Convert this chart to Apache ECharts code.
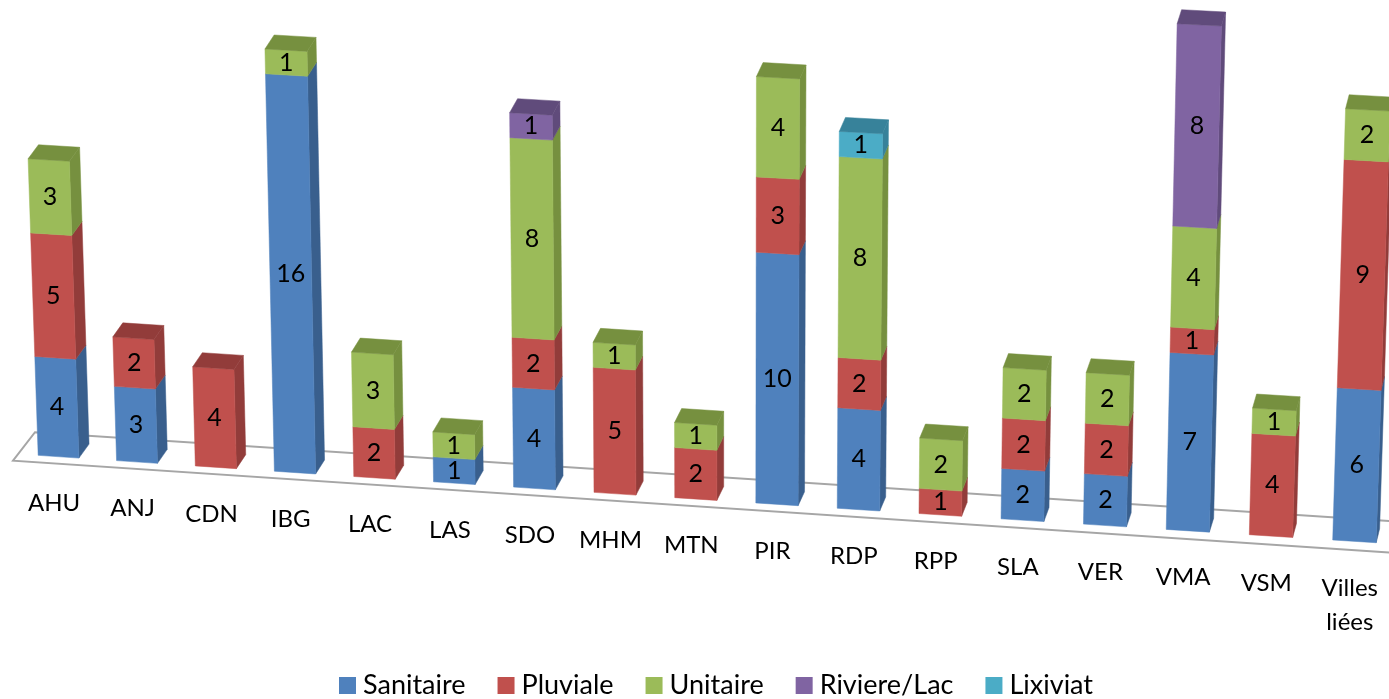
<!DOCTYPE html>
<html>
<head>
<meta charset="utf-8">
<style>
    html, body { margin: 0; padding: 0; background: #fff; }
    #chart { width: 1389px; height: 699px; }
</style>
<script src="https://cdn.jsdelivr.net/npm/echarts@6/dist/echarts.min.js"></script>
</head>
<body>
<div id="chart"></div>
<script>
const categories = ['AHU', 'ANJ', 'CDN', 'IBG', 'LAC', 'LAS', 'SDO', 'MHM', 'MTN', 'PIR', 'RDP', 'RPP', 'SLA', 'VER', 'VMA', 'VSM', 'Villes\nliées']
const sanitaire  = [4, 3, 0, 16, 0, 1, 4, 0, 0, 10, 4, 0, 2, 2, 7, 0, 6]
const pluviale   = [5, 2, 4, 0, 2, 0, 2, 5, 2, 3, 2, 1, 2, 2, 1, 4, 9]
const unitaire   = [3, 0, 0, 1, 3, 1, 8, 1, 1, 4, 8, 2, 2, 2, 4, 1, 2]
const riviereLac = [0, 0, 0, 0, 0, 0, 1, 0, 0, 0, 0, 0, 0, 0, 8, 0, 0]
const lixiviat   = [0, 0, 0, 0, 0, 0, 0, 0, 0, 0, 1, 0, 0, 0, 0, 0, 0]

const seriesDefs = [
    { name: 'Sanitaire', values: sanitaire, color: '#4f81bd', dark: '#395f8d' },
    { name: 'Pluviale', values: pluviale, color: '#c0504d', dark: '#923c3a' },
    { name: 'Unitaire', values: unitaire, color: '#9bbb59', dark: '#76903f' },
    { name: 'Riviere/Lac', values: riviereLac, color: '#8064a2', dark: '#604b7b' },
    { name: 'Lixiviat', values: lixiviat, color: '#4bacc6', dark: '#37829a' }
]

const FONT = 'Lato'
// fake 3D: the floor tilts, the columns fan out from a vanishing x
const FLOOR_SLOPE = 0.0656
const FLOOR_X = 1389
const FAN_X = 728
const FAN_K = 0.0000493
const DEPTH_Y = -14

function depthX(x) {
    return 10.3 - 0.0052 * (x - 50)
}

// columns get further apart towards the right
function warpX(x) {
    let d = x - 58.3
    return 58.5 + 0.9712 * d + 0.00002567 * d * d
}

// axis pixel -> tilted picture pixel
function project(x, axisY, axisY0) {
    let h = (axisY0 - axisY) * (1 - 0.00002 * (1168 - x))
    let floorY = axisY0 + FLOOR_SLOPE * (x - FLOOR_X)
    let wx = warpX(x)
    return [FAN_X + (wx - FAN_X) * (1 + FAN_K * h), floorY - h]
}

function barRenderer(def) {
    return function (params, api) {
        let idx = api.value(0)
        let start = api.value(1)
        let end = api.value(2)
        if (end === start) {
            return null
        }
        let center = api.coord([idx, 0])
        let w = api.size([1, 0])[0] * 0.52
        let xl = center[0] - w / 2
        let xr = center[0] + w / 2
        let y0 = center[1]
        let yStart = api.coord([idx, start])[1]
        let yEnd = api.coord([idx, end])[1]

        let a = project(xl, yStart, y0)
        let b = project(xr, yStart, y0)
        let c = project(xr, yEnd, y0)
        let d = project(xl, yEnd, y0)
        let dxB = depthX(b[0])
        let dxC = depthX(c[0])

        let children = [
            {
                type: 'polygon',
                shape: { points: [b, c, [c[0] + dxC, c[1] + DEPTH_Y], [b[0] + dxB, b[1] + DEPTH_Y]] },
                style: { fill: def.dark, stroke: def.dark, lineWidth: 0.5 }
            },
            {
                type: 'polygon',
                shape: { points: [a, b, c, d] },
                style: { fill: def.color, stroke: def.color, lineWidth: 0.5 }
            }
        ]

        // only the highest segment of a column shows its lid
        let highest = true
        for (let s of seriesDefs.slice(seriesDefs.indexOf(def) + 1)) {
            if (s.values[idx] > 0) {
                highest = false
            }
        }
        if (highest) {
            children.push({
                type: 'polygon',
                shape: { points: [d, c, [c[0] + dxC, c[1] + DEPTH_Y], [d[0] + depthX(d[0]), d[1] + DEPTH_Y]] },
                style: { fill: def.dark, stroke: def.dark, lineWidth: 0.5 }
            })
        }
        children.push({
            type: 'text',
            z2: 10,
            style: {
                text: String(end - start),
                x: (a[0] + b[0] + c[0] + d[0]) / 4,
                y: (a[1] + b[1] + c[1] + d[1]) / 4,
                align: 'center',
                verticalAlign: 'middle',
                font: '25px ' + FONT,
                fill: '#000'
            }
        })
        return { type: 'group', children: children }
    }
}

function floorRenderer(params, api) {
    let first = api.coord([0, 0])
    let last = api.coord([categories.length - 1, 0])
    let band = api.size([1, 0])[0]
    let y0 = first[1]
    let left = first[0] - band / 2 - 5
    let right = last[0] + band
    let floorAt = x => y0 + FLOOR_SLOPE * (x - FLOOR_X)
    return {
        type: 'polyline',
        shape: {
            points: [
                [right, floorAt(right) - 23],
                [left + 22, floorAt(left + 22) - 23],
                [left, floorAt(left) + 7],
                [right, floorAt(right) + 8.5]
            ]
        },
        style: { fill: null, stroke: '#a6a6a6', lineWidth: 2 }
    }
}

function labelRenderer(params, api) {
    let idx = api.value(0)
    let p = api.coord([idx, 0])
    let x = p[0] - 4.5
    return {
        type: 'text',
        style: {
            text: categories[idx],
            x: warpX(x),
            y: p[1] + FLOOR_SLOPE * (x - FLOOR_X) + 30,
            align: 'center',
            verticalAlign: 'top',
            font: '24px ' + FONT,
            lineHeight: 34,
            fill: '#000'
        }
    }
}

let stackBase = categories.map(() => 0)
let barSeries = seriesDefs.map(def => {
    let data = def.values.map((v, i) => {
        let row = [i, stackBase[i], stackBase[i] + v]
        stackBase[i] += v
        return row
    })
    return {
        name: def.name,
        type: 'custom',
        renderItem: barRenderer(def),
        encode: { x: 0, y: 2 },
        itemStyle: { color: def.color },
        z: 3,
        data: data
    }
})

let chart = echarts.init(document.getElementById('chart'))
chart.setOption({
    animation: false,
    backgroundColor: '#fff',
    grid: { left: 18, right: 0, top: 13, height: 531 },
    xAxis: { type: 'category', data: categories, show: false },
    yAxis: { type: 'value', min: 0, max: 21, show: false },
    legend: {
        data: seriesDefs.map(d => d.name),
        icon: 'rect',
        left: 334,
        top: 667,
        itemWidth: 17,
        itemHeight: 17,
        itemGap: 32,
        textStyle: { fontFamily: FONT, fontSize: 27, color: '#000', padding: [0, 0, 0, 2] }
    },
    series: [
        { type: 'custom', name: 'floor', renderItem: floorRenderer, z: 1, silent: true, data: [[0, 0]] },
        { type: 'custom', name: 'labels', renderItem: labelRenderer, z: 2, silent: true, data: categories.map((c, i) => [i, 0]) }
    ].concat(barSeries)
})
</script>
</body>
</html>
